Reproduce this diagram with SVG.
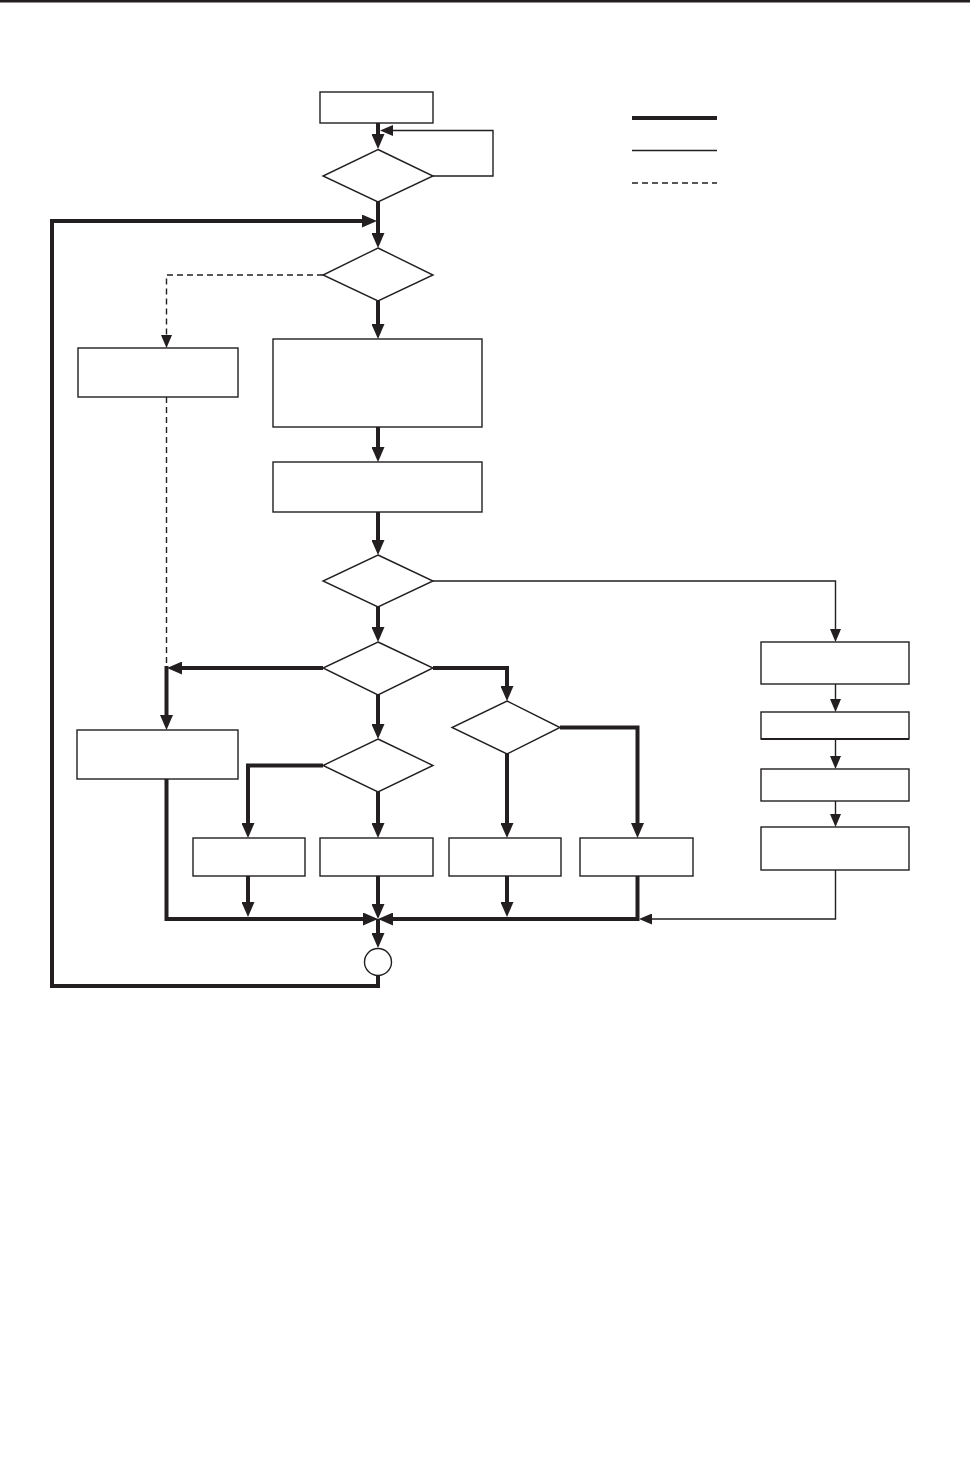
<svg xmlns="http://www.w3.org/2000/svg" width="970" height="1474" viewBox="0 0 970 1474">
<style>
.box{fill:#fff;stroke:#231f20;stroke-width:1.4}
.thick{fill:none;stroke:#231f20;stroke-width:4}
.thin{fill:none;stroke:#231f20;stroke-width:1.4}
.dash{fill:none;stroke:#231f20;stroke-width:1.4;stroke-dasharray:6,4}
</style>
<defs>
<marker id="ah" markerUnits="userSpaceOnUse" markerWidth="15" markerHeight="13" refX="7" refY="6.5" orient="auto"><path d="M0,0 L15,6.5 L0,13 z" fill="#231f20"/></marker>
<marker id="at" markerUnits="userSpaceOnUse" markerWidth="13" markerHeight="11" refX="6" refY="5.5" orient="auto"><path d="M0,0 L13,5.5 L0,11 z" fill="#231f20"/></marker>
</defs>
<rect x="0" y="0" width="970" height="2.5" fill="#231f20"/>
<g id="legend">
<line x1="632" y1="118" x2="717" y2="118" class="thick"/>
<line x1="632" y1="150.5" x2="717" y2="150.5" class="thin"/>
<line x1="632" y1="183" x2="717" y2="183" class="dash"/>
</g>
<g id="connectors">
<path class="thick" marker-end="url(#ah)" d="M378,123 V141"/>
<path class="thick" marker-end="url(#ah)" d="M378,202 V240"/>
<path class="thick" marker-end="url(#ah)" d="M378,975 V986 H52 V221 H369"/>
<path class="thick" marker-end="url(#ah)" d="M378,301 V331"/>
<path class="thick" marker-end="url(#ah)" d="M378,427 V454"/>
<path class="thick" marker-end="url(#ah)" d="M378,512 V547"/>
<path class="thick" marker-end="url(#ah)" d="M378,607 V634"/>
<path class="thick" marker-end="url(#ah)" d="M323,668 H175"/>
<path class="thick" marker-end="url(#ah)" d="M166.5,666 V722"/>
<path class="thick" marker-end="url(#ah)" d="M378,695 V731"/>
<path class="thick" marker-end="url(#ah)" d="M433,668 H507 V693"/>
<path class="thick" marker-end="url(#ah)" d="M323,765.5 H248 V830"/>
<path class="thick" marker-end="url(#ah)" d="M378,792 V830"/>
<path class="thick" marker-end="url(#ah)" d="M507,754 V830"/>
<path class="thick" marker-end="url(#ah)" d="M560,727.5 H637.5 V830"/>
<path class="thick" marker-end="url(#ah)" d="M166.5,779 V919 H370"/>
<path class="thick" marker-end="url(#ah)" d="M248,876 V909"/>
<path class="thick" marker-end="url(#ah)" d="M378,876 V911"/>
<path class="thick" marker-end="url(#ah)" d="M507,876 V909"/>
<path class="thick" marker-end="url(#ah)" d="M637.5,876 V919 H386"/>
<path class="thick" marker-end="url(#ah)" d="M378,919 V940"/>
<path class="thin" marker-end="url(#at)" d="M433,176 H493 V130.5 H387"/>
<path class="thin" marker-end="url(#at)" d="M433,581 H835.5 V635"/>
<path class="thin" marker-end="url(#at)" d="M835.5,684 V705"/>
<path class="thin" marker-end="url(#at)" d="M835.5,739 V762"/>
<path class="thin" marker-end="url(#at)" d="M835.5,801 V820"/>
<path class="thin" marker-end="url(#at)" d="M835.5,870 V919 H646"/>
<path class="dash" marker-end="url(#at)" d="M323,275 H166.5 V341"/>
<path class="dash" d="M166.5,397 V668"/>
</g>
<g id="start"><rect class="box" x="320" y="92" width="113" height="31"/></g>
<g id="d1"><polygon class="box" points="378,149.5 433,176 378,202 323,176"/></g>
<g id="d2"><polygon class="box" points="378,248 433,275 378,301 323,275"/></g>
<g id="boxA"><rect class="box" x="78" y="348" width="160" height="49"/></g>
<g id="boxB"><rect class="box" x="273" y="339" width="209" height="88"/></g>
<g id="boxC"><rect class="box" x="273" y="462" width="209" height="50"/></g>
<g id="d3"><polygon class="box" points="378,555 433,581 378,607 323,581"/></g>
<g id="d4"><polygon class="box" points="378,642 433,668 378,695 323,668"/></g>
<g id="d5"><polygon class="box" points="378,739 433,765.5 378,792 323,765.5"/></g>
<g id="d6"><polygon class="box" points="507,701 560,727.5 507,754 452,727.5"/></g>
<g id="boxE"><rect class="box" x="77" y="730" width="161" height="49"/></g>
<g id="boxF"><rect class="box" x="193" y="838" width="112" height="38"/></g>
<g id="boxG"><rect class="box" x="320" y="838" width="113" height="38"/></g>
<g id="boxH"><rect class="box" x="449" y="838" width="112" height="38"/></g>
<g id="boxI"><rect class="box" x="580" y="838" width="113" height="38"/></g>
<g id="boxD1"><rect class="box" x="761" y="642" width="148" height="42"/></g>
<g id="boxD2"><rect class="box" x="761" y="712" width="148" height="27"/><line x1="761" y1="739" x2="909" y2="739" stroke="#231f20" stroke-width="2.2"/></g>
<g id="boxD3"><rect class="box" x="761" y="769" width="148" height="32"/></g>
<g id="boxD4"><rect class="box" x="761" y="827" width="148" height="43"/></g>
<g id="end"><circle class="box" cx="378" cy="962" r="13.5"/></g>
</svg>
